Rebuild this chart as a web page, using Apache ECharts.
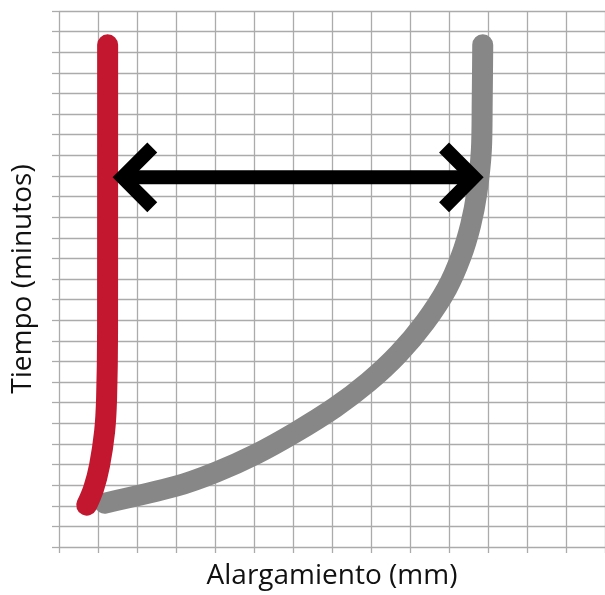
<!DOCTYPE html>
<html>
<head>
<meta charset="utf-8">
<script src="https://cdn.jsdelivr.net/npm/echarts@6/dist/echarts.min.js"></script>
<style>
html,body{margin:0;padding:0;background:#fff;}
#c{width:605px;height:595px;}
</style>
</head>
<body>
<div id="c"></div>
<script>
// Red curve (Tiempo vs Alargamiento)
const redCurve = [
  [0.71, 2.03], [0.89, 2.85], [1.04, 3.96], [1.17, 5.61],
  [1.22, 7.20], [1.245, 10.44], [1.247, 24.36]
];
// Gray curve
const grayCurve = [
  [1.170, 2.127], [3.003, 2.948], [4.020, 3.625], [5.038, 4.495],
  [6.056, 5.558], [7.074, 6.767], [7.926, 7.989], [8.707, 9.372],
  [9.394, 10.928], [9.949, 12.547], [10.310, 14.094], [10.555, 15.621],
  [10.715, 17.187], [10.830, 19.256], [10.852, 21.701], [10.865, 24.359]
];
// Double arrow
const arrowShaft = [[1.628, 17.93], [10.636, 17.93]];
const arrowHeadLeft = [[2.392, 19.38], [1.628, 17.93], [2.392, 16.48]];
const arrowHeadRight = [[9.873, 19.38], [10.636, 17.93], [9.873, 16.48]];

const xName = 'Alargamiento (mm)';
const yName = 'Tiempo (minutos)';

const gridColor = '#ababab';
const font = '"Open Sans", "Noto Sans", sans-serif';

const chart = echarts.init(document.getElementById('c'), null, {renderer: 'canvas'});
chart.setOption({
  animation: false,
  backgroundColor: '#fff',
  grid: {left: 59, top: 11, width: 550.2, height: 538},
  xAxis: {
    type: 'value', min: 0, max: 14, interval: 1,
    name: xName, nameLocation: 'middle', nameGap: 15,
    nameTextStyle: {fontSize: 28, color: '#111', fontFamily: font},
    axisLine: {show: false},
    axisTick: {show: true, length: 6, lineStyle: {color: gridColor, width: 1.3}},
    axisLabel: {show: false},
    splitLine: {show: true, lineStyle: {color: gridColor, width: 1.3}}
  },
  yAxis: {
    type: 'value', min: 0, max: 26, interval: 1,
    name: yName, nameLocation: 'middle', nameGap: 22,
    nameTextStyle: {fontSize: 28, color: '#111', fontFamily: font},
    axisLine: {show: false},
    axisTick: {show: true, length: 7, lineStyle: {color: gridColor, width: 1.3}},
    axisLabel: {show: false},
    splitLine: {show: true, lineStyle: {color: gridColor, width: 1.3}}
  },
  series: [
    {type: 'line', data: grayCurve, smooth: 0.3, symbol: 'none',
     lineStyle: {color: '#878787', width: 21, cap: 'round', join: 'round'}},
    {type: 'line', data: redCurve, smooth: 0.4, symbol: 'none',
     lineStyle: {color: '#c2172f', width: 21, cap: 'round', join: 'round'}},
    {type: 'line', data: arrowShaft, symbol: 'none',
     lineStyle: {color: '#000', width: 14, cap: 'butt'}},
    {type: 'line', data: arrowHeadLeft, symbol: 'none',
     lineStyle: {color: '#000', width: 14, cap: 'butt', join: 'miter'}},
    {type: 'line', data: arrowHeadRight, symbol: 'none',
     lineStyle: {color: '#000', width: 14, cap: 'butt', join: 'miter'}}
  ]
});
</script>
</body>
</html>
